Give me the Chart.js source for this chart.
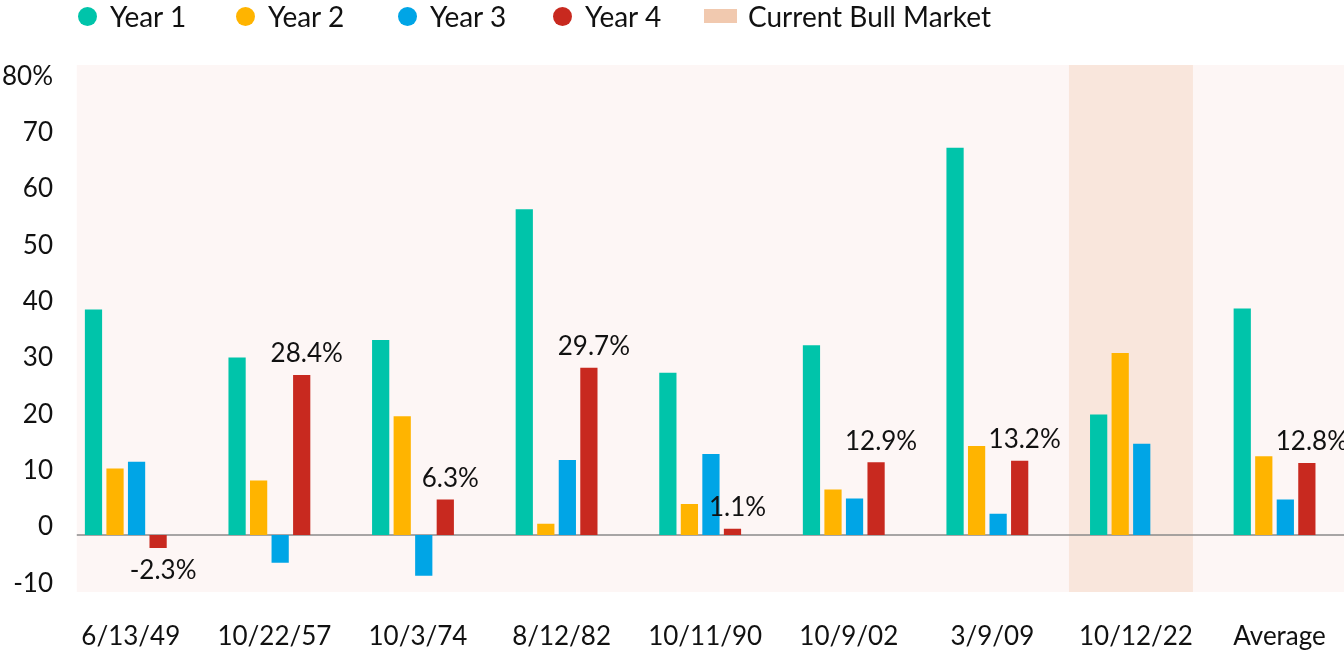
<!DOCTYPE html>
<html>
<head>
<meta charset="utf-8">
<script src="https://cdn.jsdelivr.net/npm/chart.js@4.4.1/dist/chart.umd.min.js"></script>
<style>
  html, body { margin: 0; padding: 0; background: #ffffff; overflow: hidden; }
  #wrap { position: relative; width: 1344px; height: 662px; overflow: hidden; }
  #c { position: absolute; left: 0; top: 0; }
  .lg { position: absolute; top: 0; height: 32px; display: flex; align-items: center;
        font-family: Lato, sans-serif; font-size: 28px; color: #111; white-space: nowrap; }
  .dot { width: 19px; height: 19px; border-radius: 50%; margin-right: 13px; flex: none; }
  .sq { width: 33px; height: 14px; margin-right: 11px; flex: none; }
</style>
</head>
<body>
<div id="wrap">
  <canvas id="c" width="1350" height="662"></canvas>
  <div id="legend"></div>
</div>
<script>
// ---- data ----
const categories = ['6/13/49', '10/22/57', '10/3/74', '8/12/82', '10/11/90', '10/9/02', '3/9/09', '10/12/22', 'Average'];
const year1 = [40.0, 31.5, 34.6, 57.8, 28.8, 33.7, 68.7, 21.4, 40.2];
const year2 = [11.8, 9.7, 21.1, 2.0, 5.5, 8.1, 15.8, 32.3, 14.0];
const year3 = [13.0, -4.9, -7.2, 13.3, 14.4, 6.5, 3.8, 16.2, 6.3];
const year4 = [-2.3, 28.4, 6.3, 29.7, 1.1, 12.9, 13.2, null, 12.8];
const year4Labels = ['-2.3%', '28.4%', '6.3%', '29.7%', '1.1%', '12.9%', '13.2%', '', '12.8%'];
const yTicks = [-10, 0, 10, 20, 30, 40, 50, 60, 70, 80];
const seriesNames = ['Year 1', 'Year 2', 'Year 3', 'Year 4'];
const bandName = 'Current Bull Market';
const highlightIndex = 7;

// ---- styles ----
const colors = ['#00C4AA', '#FFB400', '#00A5E6', '#C8291F'];
const plotBg = '#FDF6F5';
const bandBg = '#F9E6DC';
const bandLegend = '#F1C9AF';
const textColor = '#111111';
const FONT = 'Lato';
const VISIBLE_W = 1344;

// ---- HTML legend ----
const legendEl = document.getElementById('legend');
const legendLefts = [78, 236, 398, 553];
seriesNames.forEach((name, i) => {
  const d = document.createElement('div');
  d.className = 'lg';
  d.style.left = legendLefts[i] + 'px';
  d.innerHTML = '<span class="dot" style="background:' + colors[i] + '"></span><span></span>';
  d.lastChild.textContent = name;
  legendEl.appendChild(d);
});
(function () {
  const d = document.createElement('div');
  d.className = 'lg';
  d.style.left = '704px';
  d.innerHTML = '<span class="sq" style="background:' + bandLegend + '"></span><span></span>';
  d.lastChild.textContent = bandName;
  legendEl.appendChild(d);
})();

// ---- plugins ----
const backgroundPlugin = {
  id: 'bgPlugin',
  beforeDatasetsDraw(chart) {
    const { ctx, chartArea, scales } = chart;
    const x = scales.x, y = scales.y;
    const bgLeft = x.getPixelForValue(0) - 49;
    ctx.save();
    ctx.fillStyle = plotBg;
    ctx.fillRect(bgLeft, chartArea.top, VISIBLE_W - bgLeft, chartArea.bottom - chartArea.top);
    const cx = x.getPixelForValue(highlightIndex);
    ctx.fillStyle = bandBg;
    ctx.fillRect(cx - 62, chartArea.top, 124, chartArea.bottom - chartArea.top);
    const y0 = y.getPixelForValue(0);
    ctx.strokeStyle = '#8a8a8a';
    ctx.lineWidth = 1.5;
    ctx.beginPath();
    ctx.moveTo(bgLeft, y0);
    ctx.lineTo(VISIBLE_W, y0);
    ctx.stroke();
    ctx.restore();
  }
};

const valueLabelPlugin = {
  id: 'valueLabels',
  afterDatasetsDraw(chart) {
    const { ctx } = chart;
    const meta = chart.getDatasetMeta(3);
    ctx.save();
    ctx.font = '26px ' + FONT;
    ctx.fillStyle = textColor;
    ctx.textAlign = 'center';
    ctx.textBaseline = 'middle';
    meta.data.forEach((el, i) => {
      const txt = year4Labels[i];
      const v = year4[i];
      if (!txt || v === null) return;
      const ty = v >= 0 ? el.y - 21 : el.y + 23;
      ctx.fillText(txt, el.x + 5, ty);
    });
    ctx.restore();
  }
};

// ---- chart ----
Chart.defaults.font.family = FONT;
Chart.defaults.color = textColor;

const seriesData = [year1, year2, year3, year4];
new Chart(document.getElementById('c'), {
  type: 'bar',
  data: {
    labels: categories,
    datasets: seriesData.map((d, i) => ({
      label: seriesNames[i],
      data: d,
      backgroundColor: colors[i],
      borderWidth: 0,
      categoryPercentage: 0.6,
      barPercentage: 0.8
    }))
  },
  options: {
    responsive: false,
    animation: false,
    devicePixelRatio: 1,
    layout: { padding: { left: 0, top: 65, right: 3, bottom: 0 } },
    plugins: {
      legend: { display: false },
      tooltip: { enabled: false },
      title: { display: false }
    },
    scales: {
      x: {
        grid: { display: false, drawTicks: false },
        border: { display: false },
        ticks: {
          font: { size: 26, family: FONT },
          color: textColor,
          padding: 29,
          labelOffset: 5,
          maxRotation: 0,
          autoSkip: false
        },
        afterFit(scale) { scale.height = 70; }
      },
      y: {
        min: -10.1,
        max: 83.4,
        grid: { display: false, drawTicks: false },
        border: { display: false },
        afterBuildTicks(scale) { scale.ticks = yTicks.map(v => ({ value: v })); },
        ticks: {
          font: { size: 26, family: FONT },
          color: textColor,
          padding: 1,
          labelOffset: -8,
          callback: (v) => (v === 80 ? '80%' : String(v))
        },
        afterFit(scale) { scale.width = 54; }
      }
    }
  },
  plugins: [backgroundPlugin, valueLabelPlugin]
});
</script>
</body>
</html>
